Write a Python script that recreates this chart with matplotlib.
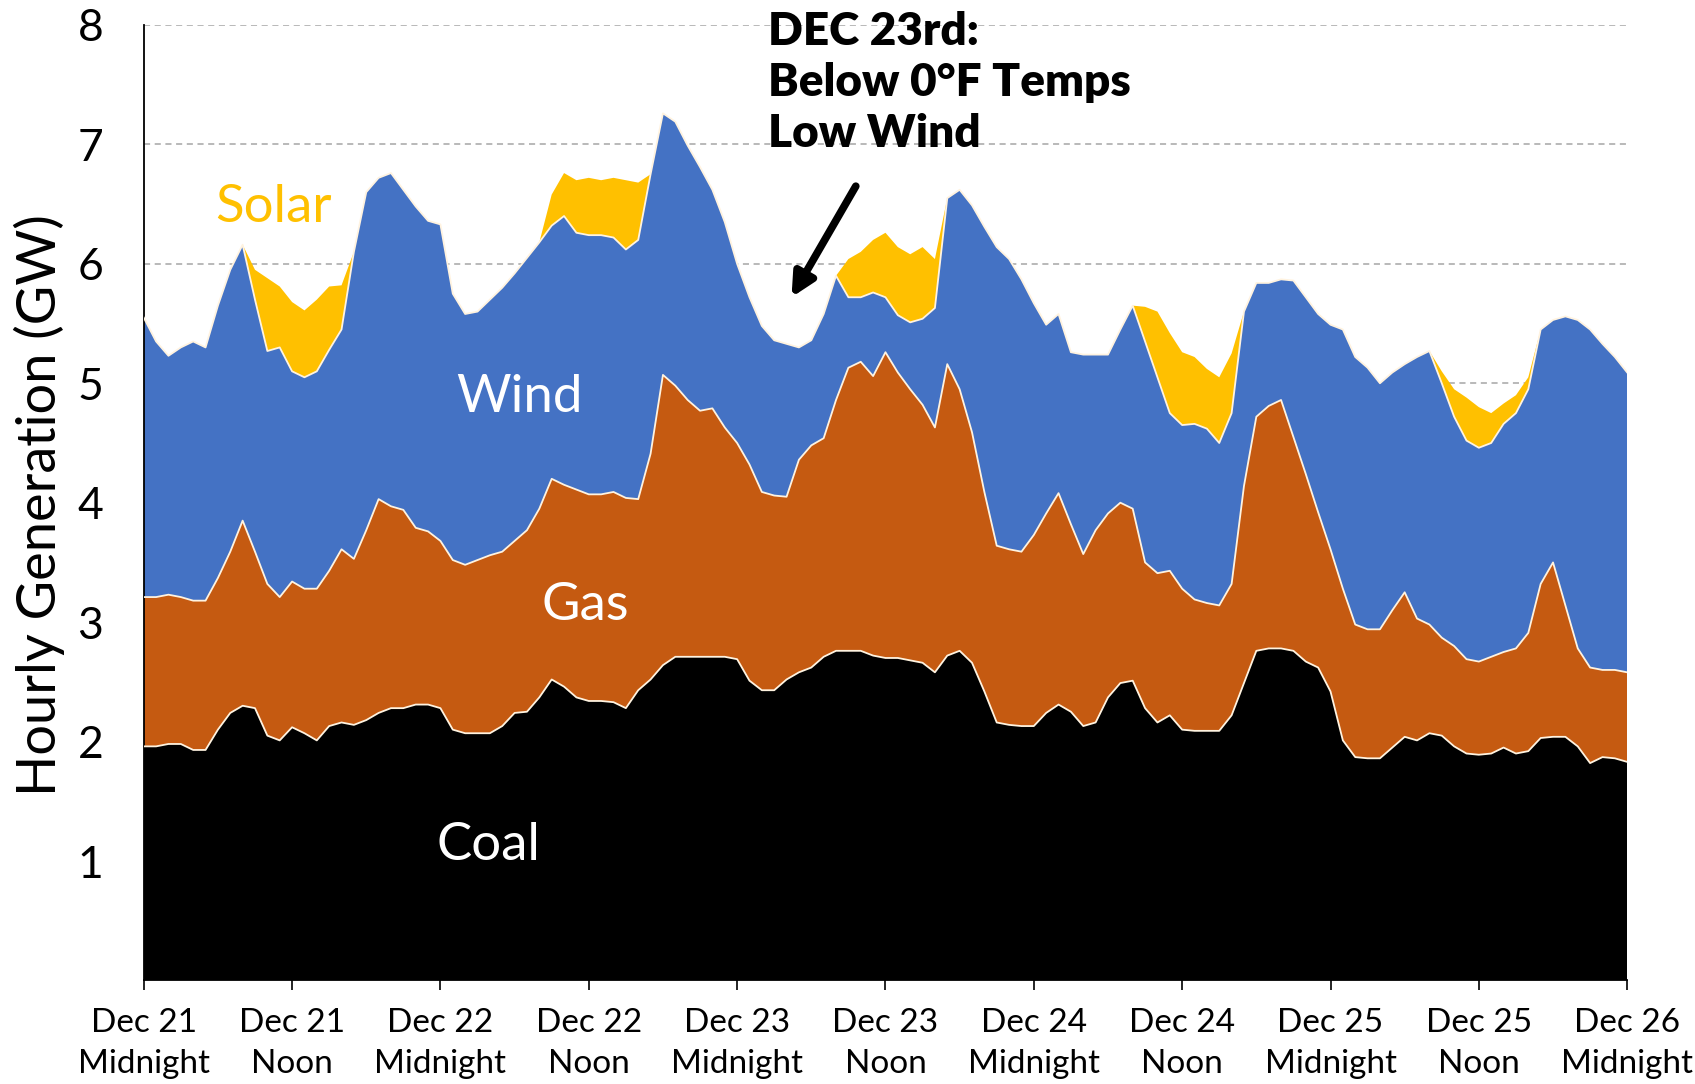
import numpy as np
import matplotlib.pyplot as plt

plt.rcParams['font.family'] = ['Lato', 'DejaVu Sans']

# hours since Dec 21 midnight
hours = np.arange(121)

coal = [1.96, 1.96, 1.98, 1.98, 1.93, 1.93, 2.10, 2.24, 2.30, 2.28, 2.05, 2.01,
        2.12, 2.07, 2.01, 2.13, 2.16, 2.14, 2.18, 2.24, 2.28, 2.28, 2.31, 2.31,
        2.28, 2.10, 2.07, 2.07, 2.07, 2.13, 2.24, 2.25, 2.37, 2.52, 2.46, 2.37,
        2.34, 2.34, 2.33, 2.28, 2.43, 2.52, 2.64, 2.71, 2.71, 2.71, 2.71, 2.71,
        2.69, 2.51, 2.43, 2.43, 2.52, 2.58, 2.62, 2.71, 2.76, 2.76, 2.76, 2.72,
        2.70, 2.70, 2.68, 2.66, 2.58, 2.72, 2.76, 2.66, 2.42, 2.16, 2.14, 2.13,
        2.13, 2.24, 2.31, 2.25, 2.13, 2.16, 2.37, 2.49, 2.51, 2.28, 2.16, 2.22,
        2.10, 2.09, 2.09, 2.09, 2.22, 2.49, 2.76, 2.78, 2.78, 2.76, 2.67, 2.62,
        2.42, 2.01, 1.87, 1.86, 1.86, 1.95, 2.04, 2.01, 2.07, 2.05, 1.96, 1.90,
        1.89, 1.90, 1.95, 1.90, 1.92, 2.03, 2.04, 2.04, 1.96, 1.82, 1.87, 1.86,
        1.83]

gas = [1.25, 1.25, 1.25, 1.23, 1.25, 1.25, 1.27, 1.35, 1.55, 1.31, 1.27, 1.20,
       1.22, 1.21, 1.27, 1.30, 1.45, 1.39, 1.59, 1.79, 1.69, 1.66, 1.48, 1.45,
       1.40, 1.42, 1.41, 1.45, 1.49, 1.46, 1.44, 1.52, 1.58, 1.68, 1.69, 1.74,
       1.73, 1.73, 1.76, 1.76, 1.60, 1.89, 2.43, 2.27, 2.15, 2.06, 2.08, 1.92,
       1.81, 1.81, 1.66, 1.63, 1.53, 1.78, 1.86, 1.83, 2.10, 2.37, 2.42, 2.34,
       2.56, 2.39, 2.27, 2.16, 2.05, 2.44, 2.19, 1.93, 1.67, 1.48, 1.47, 1.46,
       1.60, 1.67, 1.77, 1.57, 1.44, 1.61, 1.54, 1.51, 1.44, 1.22, 1.25, 1.21,
       1.18, 1.10, 1.07, 1.05, 1.10, 1.65, 1.96, 2.03, 2.08, 1.79, 1.57, 1.30,
       1.19, 1.27, 1.11, 1.08, 1.08, 1.15, 1.21, 1.02, 0.91, 0.82, 0.84, 0.79,
       0.78, 0.81, 0.80, 0.88, 0.99, 1.29, 1.46, 1.10, 0.82, 0.80, 0.73, 0.74,
       0.75]

wind = [2.34, 2.14, 2.00, 2.09, 2.17, 2.12, 2.28, 2.36, 2.31, 2.11, 1.95, 2.09,
        1.76, 1.77, 1.82, 1.85, 1.84, 2.57, 2.83, 2.69, 2.79, 2.68, 2.69, 2.60,
        2.65, 2.23, 2.10, 2.08, 2.14, 2.21, 2.24, 2.28, 2.23, 2.12, 2.25, 2.15,
        2.17, 2.17, 2.13, 2.08, 2.17, 2.34, 2.19, 2.21, 2.13, 2.04, 1.83, 1.72,
        1.50, 1.40, 1.39, 1.30, 1.28, 0.94, 0.88, 1.04, 1.04, 0.59, 0.54, 0.70,
        0.46, 0.48, 0.56, 0.72, 1.00, 1.39, 1.67, 1.90, 2.22, 2.50, 2.43, 2.28,
        1.94, 1.58, 1.50, 1.44, 1.67, 1.47, 1.33, 1.45, 1.70, 1.85, 1.64, 1.32,
        1.37, 1.47, 1.46, 1.36, 1.43, 1.46, 1.12, 1.03, 1.01, 1.31, 1.48, 1.66,
        1.88, 2.17, 2.24, 2.19, 2.06, 1.99, 1.91, 2.19, 2.29, 2.13, 1.92, 1.83,
        1.79, 1.79, 1.91, 1.97, 2.04, 2.13, 2.03, 2.42, 2.75, 2.83, 2.73, 2.62,
        2.51]

solar = [0, 0, 0, 0, 0, 0, 0, 0, 0, 0.25, 0.61, 0.51,
         0.58, 0.56, 0.60, 0.53, 0.37, 0, 0, 0, 0, 0, 0, 0,
         0, 0, 0, 0, 0, 0, 0, 0, 0, 0.26, 0.36, 0.44,
         0.48, 0.46, 0.50, 0.58, 0.48, 0, 0, 0, 0, 0, 0, 0,
         0, 0, 0, 0, 0, 0, 0, 0, 0, 0.32, 0.38, 0.44,
         0.54, 0.57, 0.57, 0.60, 0.41, 0, 0, 0, 0, 0, 0, 0,
         0, 0, 0, 0, 0, 0, 0, 0, 0, 0.29, 0.55, 0.67,
         0.61, 0.56, 0.50, 0.55, 0.50, 0, 0, 0, 0, 0, 0, 0,
         0, 0, 0, 0, 0, 0, 0, 0, 0, 0.10, 0.23, 0.36,
         0.34, 0.25, 0.17, 0.15, 0.10, 0, 0, 0, 0, 0, 0, 0,
         0]

tick_hours = list(range(0, 121, 12))
tick_labels = ["Dec 21\nMidnight", "Dec 21\nNoon", "Dec 22\nMidnight", "Dec 22\nNoon",
               "Dec 23\nMidnight", "Dec 23\nNoon", "Dec 24\nMidnight", "Dec 24\nNoon",
               "Dec 25\nMidnight", "Dec 25\nNoon", "Dec 26\nMidnight"]

colors = ['#000000', '#C55A11', '#4472C4', '#FFC000']

fig = plt.figure(figsize=(16.95, 10.84), dpi=100)
ax = fig.add_axes([0.0848, 0.0955, 0.8752, 0.8815])

ax.stackplot(hours, coal, gas, wind, solar, colors=colors, linewidth=0, zorder=2)

# thin light lines between the layers
levels = np.cumsum([coal, gas, wind], axis=0)
for lev in levels:
    ax.plot(hours, lev, color='#FFF3E0', lw=1.3, zorder=3)

ax.set_xlim(0, 120)
ax.set_ylim(0, 8)
ax.set_yticks(range(1, 9))
ax.set_xticks(tick_hours)
ax.set_xticklabels(tick_labels)
for lab in ax.get_xticklabels():
    lab.set_linespacing(1.45)
ax.tick_params(axis='y', length=0, pad=29, labelsize=32)
ax.tick_params(axis='x', length=7, width=1.2, pad=13, labelsize=24)

ax.set_axisbelow(True)
ax.yaxis.grid(True, linestyle=(0, (4, 3)), color='#A6A6A6', lw=1.1, zorder=0)

for side in ['top', 'right']:
    ax.spines[side].set_visible(False)
ax.spines['left'].set_linewidth(1.3)
ax.spines['bottom'].set_linewidth(1.3)

fig.text(0.023, 0.534, "Hourly Generation (GW)", rotation=90,
         ha='center', va='center', fontsize=39)

# layer labels
ax.text(10.5, 6.47, "Solar", color='#FFC000', fontsize=38, ha='center', va='center')
ax.text(30.4, 4.88, "Wind", color='white', fontsize=38, ha='center', va='center')
ax.text(35.7, 3.14, "Gas", color='white', fontsize=38, ha='center', va='center')
ax.text(27.9, 1.13, "Coal", color='white', fontsize=38, ha='center', va='center')

# annotation
ax.text(50.5, 8.12, "DEC 23rd:\nBelow 0°F Temps\nLow Wind", fontsize=33,
        fontweight='heavy', ha='left', va='top', linespacing=1.3)
ax.annotate('', xy=(52.4, 5.72), xytext=(57.6, 6.65),
            arrowprops=dict(arrowstyle='-|>', lw=5.5, color='black',
                            mutation_scale=34, shrinkA=0, shrinkB=0))

fig.savefig('out.png', dpi=100)
